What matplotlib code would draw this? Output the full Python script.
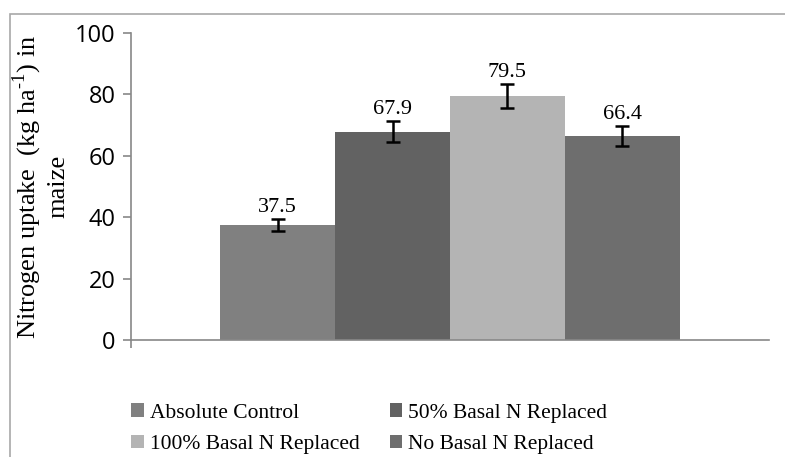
import numpy as np
import matplotlib
matplotlib.use("Agg")
import matplotlib.pyplot as plt
from matplotlib.patches import Rectangle

# data
treatments = ["Absolute Control", "50% Basal N Replaced",
              "100% Basal N Replaced", "No Basal N Replaced"]
uptake = [37.5, 67.9, 79.5, 66.4]
errors = [2.0, 3.5, 4.0, 3.3]
colours = ["#808080", "#626262", "#b4b4b4", "#6e6e6e"]
yticks = [0, 20, 40, 60, 80, 100]

serif = "Liberation Serif"
sans = "Open Sans"
plt.rcParams["mathtext.fontset"] = "custom"
plt.rcParams["mathtext.rm"] = serif

fig = plt.figure(figsize=(7.85, 4.57), dpi=100)
ax = fig.add_axes([131/785, 1-340/457, 638/785, 307/457])

# outer chart frame
fig.patches.append(Rectangle((10/785, -0.1), 1.2, 1-14/457+0.1, transform=fig.transFigure,
                             fill=False, edgecolor="#a8a8a8", linewidth=1.2))

w = 0.18
offs = (np.arange(len(uptake)) - 1.5) * w
bars = []
for i in range(len(uptake)):
    b = ax.bar(offs[i], uptake[i], width=w, color=colours[i], label=treatments[i],
               yerr=errors[i], error_kw=dict(ecolor="black", elinewidth=1.8, capsize=5, capthick=1.8))
    bars.append(b)
    ax.text(offs[i], uptake[i] + errors[i] + 0.6, f"{uptake[i]:.1f}", ha="center", va="bottom",
            fontsize=16, family=serif)

ax.set_xlim(-0.5, 0.5)
ax.set_ylim(0, 100)
ax.set_yticks(yticks)
ax.set_yticklabels([str(t) for t in yticks], fontsize=17, family=sans)
ax.set_xticks([-0.5])
ax.set_xticklabels([""])
ax.tick_params(axis="y", direction="out", length=6, color="#888888", width=1.2, pad=5)
ax.tick_params(axis="x", direction="out", length=6, color="#888888", width=1.2)
for s in ["top", "right"]:
    ax.spines[s].set_visible(False)
for s in ["left", "bottom"]:
    ax.spines[s].set_color("#888888")
    ax.spines[s].set_linewidth(1.2)

ax.set_ylabel("Nitrogen uptake  (kg ha$^{\\text{-1}}$) in\nmaize", fontsize=19,
              family=serif, linespacing=1.2, labelpad=4)

order = [0, 2, 1, 3]  # legend fills row by row
leg = fig.legend(handles=[bars[i][0] for i in order], labels=[treatments[i] for i in order],
                 ncol=2, loc="upper left", bbox_to_anchor=(112/785, 1-384/457), frameon=False,
                 prop=dict(family=serif, size=15.5), handlelength=0.6, handleheight=0.6,
                 handletextpad=0.25, columnspacing=1.4, labelspacing=0.55)

fig.savefig("out.png", dpi=100)
